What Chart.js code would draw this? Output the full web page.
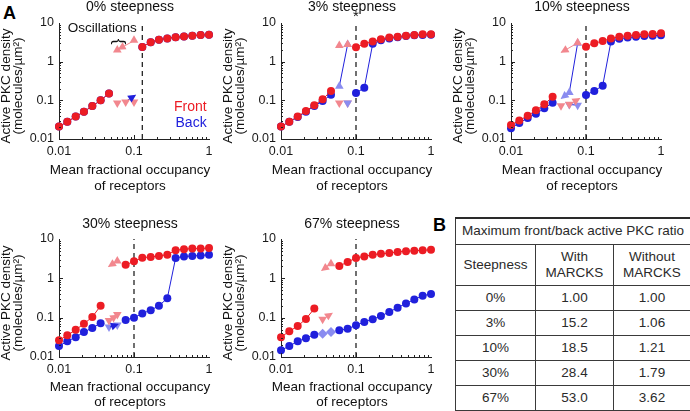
<!DOCTYPE html>
<html>
<head>
<meta charset="utf-8">
<script src="https://cdn.jsdelivr.net/npm/chart.js@4.4.0/dist/chart.umd.min.js"></script>
<style>
  body { margin: 0; width: 690px; height: 411px; position: relative; background: #fff; overflow: hidden;
         font-family: 'Liberation Sans', Arial, sans-serif; }
  canvas { position: absolute; }
  .tag { position: absolute; font-weight: bold; font-size: 18px; line-height: 18px; color: #000; }
  #ratio { position: absolute; left: 455px; top: 217px; width: 235px; border-collapse: collapse; table-layout: fixed;
           font-size: 13.5px; color: #2a2a2a; text-align: center; }
  #ratio td { border: 1px solid #3a3a3a; padding: 0; line-height: 16px; }
  #ratio tr { height: 25px; }
  #ratio tr.h1 { height: 26px; }
  #ratio tr.h2 { height: 41px; }
  #ratio tr.h1 td { border-top: 2px solid #2a2a2a; }
</style>
</head>
<body>
<div class="tag" style="left:3px;top:4px">A</div>
<div class="tag" style="left:433px;top:216px">B</div>
<table id="ratio">
  <colgroup><col style="width:80px"><col style="width:78px"><col style="width:77px"></colgroup>
  <tr class="h1"><td colspan="3">Maximum front/back active PKC ratio</td></tr>
  <tr class="h2"><td>Steepness</td><td>With<br>MARCKS</td><td>Without<br>MARCKS</td></tr>
</table>
<script>
// receptor occupancy grid used by every simulation
const occupancy = [0.01, 0.0129, 0.0167, 0.0215, 0.0278, 0.0359, 0.0464, 0.0599, 0.0774, 0.1,
                   0.129, 0.167, 0.215, 0.278, 0.359, 0.464, 0.599, 0.774, 1];
const steepness = ['0%', '3%', '10%', '30%', '67%'];
const switchOccupancy = [0.129, 0.1, 0.1, 0.1, 0.1];
const xTicks = [0.01, 0.1, 1];
const yTicks = [0.01, 0.1, 1, 10];
const xTitle = ['Mean fractional occupancy', 'of receptors'];
const yTitle = ['Active PKC density', '(molecules/µm²)'];

// stable steady states (null = oscillating)
const front0 = [0.021, 0.028, 0.038, 0.051, 0.071, 0.10, 0.15, null, null, null, 2.4, 3.2, 3.7, 4.0, 4.3, 4.5, 4.7, 4.9, 5.0];
const back0 = [0.021, 0.028, 0.038, 0.051, 0.071, 0.10, 0.15, null, null, null, 2.4, 3.2, 3.7, 4.0, 4.3, 4.5, 4.7, 4.9, 5.0];
const front3 = [0.021, 0.028, 0.038, 0.053, 0.075, 0.106, 0.175, null, null, 2.35, 2.9, 3.3, 3.8, 4.2, 4.4, 4.7, 4.9, 5.1, 5.1];
const back3 = [0.021, 0.028, 0.037, 0.051, 0.071, 0.096, 0.14, null, null, 0.155, 0.21, 2.9, 3.6, 4.0, 4.3, 4.6, 4.8, 4.9, 5.0];
const front10 = [0.023, 0.030, 0.040, 0.055, 0.079, 0.124, null, null, null, 2.44, 3.0, 3.4, 4.0, 4.4, 4.7, 4.9, 5.1, 5.2, 5.4];
const back10 = [0.019, 0.026, 0.035, 0.045, 0.062, 0.087, null, null, null, 0.138, 0.175, 0.24, 3.3, 3.9, 4.2, 4.4, 4.6, 4.7, 4.8];
const front30 = [0.0265, 0.0355, 0.049, 0.070, 0.104, 0.20, null, null, 2.2, 2.7, 3.35, 3.5, 3.7, 4.0, 5.2, 5.5, 5.7, 5.7, 5.9];
const back30 = [0.019, 0.025, 0.032, 0.043, 0.055, 0.072, null, null, 0.087, 0.10, 0.128, 0.155, 0.20, 0.31, 3.3, 3.6, 3.7, 3.8, 4.0];
const front67 = [0.032, 0.045, 0.061, 0.093, 0.17, null, null, 2.06, 2.6, 3.3, 3.6, 4.0, 4.2, 4.4, 4.7, 4.9, 5.0, 5.2, 5.3];
const back67 = [0.0148, 0.019, 0.025, 0.030, 0.037, null, null, 0.048, 0.052, 0.064, 0.078, 0.091, 0.11, 0.14, 0.18, 0.23, 0.29, 0.36, 0.40];

// oscillation maxima / minima as [occupancy, density]
const frontMax0 = [[0.0599, 2.0], [0.1, 3.6]];
const frontMin0 = [[0.0599, 0.085], [0.0774, 0.09], [0.1, 0.09]];
const frontMax3 = [[0.0599, 2.6], [0.0774, 2.8]];
const backMax3 = [[0.0599, 0.23], [0.0774, 2.8]];
const frontMin3 = [[0.0599, 0.085], [0.0774, 0.085]];
const backMin3 = [[0.0774, 0.085]];
const frontMax10 = [[0.0774, 3.1]];
const backMax10 = [[0.0599, 0.16], [0.0774, 3.0]];
const frontMin10 = [[0.0464, 0.072], [0.0599, 0.079]];
const backMin10 = [[0.0599, 0.078], [0.0774, 0.075]];
const frontMax30 = [[0.0599, 2.75]];
const frontMin30 = [[0.0464, 0.085], [0.0599, 0.12]];
const backMin30 = [[0.0464, 0.058], [0.0599, 0.065]];
const frontMax67 = [[0.0464, 2.36]];
const frontMin67 = [[0.0359, 0.091]];
const backBoth67 = [[0.0359, 0.039], [0.0464, 0.043]];

// arrows between oscillation states: [from, to]
const arrowsFront0 = [[[0.095, 3.3], [0.062, 2.1]]];
const arrowsBack0 = [[[0.078, 0.094], [0.104, 0.135]]];
const arrowsFront10 = [[[0.074, 2.9], [0.047, 1.75]], [[0.062, 0.08], [0.082, 0.112]]];
const arrowsBack10 = [[[0.058, 0.155], [0.047, 0.112]]];
const arrowsFront30 = [[[0.057, 2.6], [0.046, 2.0]], [[0.048, 0.088], [0.06, 0.115]]];
const arrowsBack30 = [[[0.048, 0.058], [0.061, 0.068]]];
const arrowsFront67 = [[[0.045, 2.25], [0.035, 1.6]], [[0.037, 0.094], [0.048, 0.13]]];

// table B
const withMarcks = ['1.00', '15.2', '18.5', '28.4', '53.0'];
const withoutMarcks = ['1.00', '1.06', '1.21', '1.79', '3.62'];

const RED = '#ec1c24', BLUE = '#2020dc', PINK = '#f2878e', LIGHTBLUE = '#8a8cf0';
const FONT = "'Liberation Sans', Arial, sans-serif";

Chart.defaults.font.family = FONT;
Chart.defaults.color = '#1a1a1a';

function putText(ctx, text, x, y, size, color, align, rotate) {
    ctx.save();
    ctx.translate(x, y);
    if (rotate) ctx.rotate(rotate);
    ctx.fillStyle = color || '#111';
    ctx.font = size + 'px ' + FONT;
    ctx.textAlign = align || 'center';
    ctx.textBaseline = 'middle';
    ctx.fillText(text, 0, 0);
    ctx.restore();
}

const panelExtras = {
    id: 'panelExtras',
    afterDatasetsDraw(chart) {
        const ctx = chart.ctx;
        chart.data.datasets.forEach((ds, i) => {
            if (!ds.arrow) return;
            const pts = chart.getDatasetMeta(i).data;
            const p = pts[pts.length - 1], q = pts[pts.length - 2];
            const ang = Math.atan2(p.y - q.y, p.x - q.x);
            ctx.save();
            ctx.translate(p.x, p.y);
            ctx.rotate(ang);
            ctx.fillStyle = ds.borderColor;
            ctx.beginPath();
            ctx.moveTo(1, 0);
            ctx.lineTo(-7, -4);
            ctx.lineTo(-7, 4);
            ctx.closePath();
            ctx.fill();
            ctx.restore();
        });
    },
    afterDraw(chart, args, opts) {
        const { ctx, chartArea: a, scales: { x, y } } = chart;
        ctx.save();
        ctx.strokeStyle = '#222';
        ctx.lineWidth = 1;
        ctx.beginPath();
        // inward minor ticks, matlab style
        [0.01, 0.1].forEach(d => {
            for (let m = 1; m < 10; m++) {
                const px = Math.round(x.getPixelForValue(m * d)) + 0.5;
                ctx.moveTo(px, a.bottom);
                ctx.lineTo(px, a.bottom - (m === 1 ? 4 : 2));
            }
        });
        [0.01, 0.1, 1].forEach(d => {
            for (let m = 1; m < 10; m++) {
                const py = Math.round(y.getPixelForValue(m * d)) + 0.5;
                ctx.moveTo(a.left, py);
                ctx.lineTo(a.left + (m === 1 ? 4 : 2), py);
            }
        });
        ctx.stroke();
        ctx.restore();

        // titles, drawn without chart.js squeezing them to the axis length
        const cx = (a.left + a.right) / 2 - 4;
        const cy = (a.top + a.bottom) / 2 + 5;
        putText(ctx, opts.title, cx, a.top + opts.titleDy, 14, '#111');
        putText(ctx, xTitle[0], cx, a.bottom + opts.xTitleDy[0], 13.5, '#111');
        putText(ctx, xTitle[1], cx, a.bottom + opts.xTitleDy[1], 13.5, '#111');
        putText(ctx, yTitle[0], a.left - 53, cy, 13.5, '#111', 'center', -Math.PI / 2);
        putText(ctx, yTitle[1], a.left - 40.5, cy, 13.5, '#111', 'center', -Math.PI / 2);

        (opts.texts || []).forEach(t => {
            putText(ctx, t.text, x.getPixelForValue(t.x), y.getPixelForValue(t.y),
                    t.size || 14, t.color, t.align, t.rotate);
        });
    }
};

const series = (vals, color) => ({
    data: vals.map((v, i) => ({ x: occupancy[i], y: v })),
    borderColor: color, backgroundColor: color, borderWidth: 1,
    pointRadius: 4, pointBorderWidth: 0, spanGaps: false, clip: false
});

const marks = (pts, color, style, lineColor) => ({
    data: pts.map(([x, y]) => ({ x, y })),
    showLine: !!lineColor, borderColor: lineColor || color, borderWidth: 1,
    backgroundColor: color, pointBorderWidth: 0, pointRadius: 5,
    pointStyle: style === 'diamond' ? 'rectRot' : 'triangle',
    rotation: style === 'down' ? 180 : 0, clip: false
});

const arrows = (list, color) => list.map(([from, to]) => ({
    data: [{ x: from[0], y: from[1] }, { x: to[0], y: to[1] }],
    borderColor: color, borderWidth: 1, pointRadius: 0, arrow: true, clip: false
}));

const dashed = s => ({
    data: [{ x: s, y: 0.01 }, { x: s, y: 10 }],
    borderColor: '#111', borderWidth: 1.2, borderDash: [5, 4], pointRadius: 0
});

// each list goes bottom -> top
const panels = [
    {
        sets: [
            ...arrows(arrowsBack0, BLUE), marks(frontMin0, PINK, 'down'), marks(frontMax0, PINK, 'up'),
            ...arrows(arrowsFront0, PINK), series(back0, BLUE), series(front0, RED)
        ],
        texts: [
            { text: 'Oscillations', x: 0.109, y: 7.4, align: 'right', size: 13.5 },
            { text: '{', x: 0.063, y: 3.3, size: 17, rotate: Math.PI / 2 },
            { text: 'Front', x: 0.93, y: 0.067, align: 'right', color: RED, size: 14 },
            { text: 'Back', x: 0.93, y: 0.026, align: 'right', color: BLUE, size: 14 }
        ]
    },
    {
        sets: [
            marks(backMax3, LIGHTBLUE, 'up', BLUE), marks(frontMax3, PINK, 'up'),
            marks(frontMin3, PINK, 'down'), marks(backMin3, LIGHTBLUE, 'down'),
            series(back3, BLUE), series(front3, RED)
        ],
        texts: [{ text: '*', x: 0.1, y: 14.5, size: 15 }]
    },
    {
        sets: [
            marks(backMax10, LIGHTBLUE, 'up', BLUE), ...arrows(arrowsBack10, LIGHTBLUE),
            marks(frontMax10, PINK, 'up'), ...arrows(arrowsFront10, PINK),
            marks(backMin10, LIGHTBLUE, 'down', BLUE), marks(frontMin10, PINK, 'down'),
            series(back10, BLUE), series(front10, RED)
        ],
        texts: []
    },
    {
        sets: [
            marks(backMin30, LIGHTBLUE, 'down'), marks(frontMax30, PINK, 'up'), marks(frontMin30, PINK, 'down'),
            ...arrows(arrowsFront30, PINK), ...arrows(arrowsBack30, BLUE),
            series(back30, BLUE), series(front30, RED)
        ],
        texts: []
    },
    {
        sets: [
            marks(backBoth67, LIGHTBLUE, 'diamond', LIGHTBLUE),
            marks(frontMax67, PINK, 'up'), marks(frontMin67, PINK, 'down'), ...arrows(arrowsFront67, PINK),
            series(back67, BLUE), series(front67, RED)
        ],
        texts: []
    }
];

const boxes = [
    { left: 1, top: 0, height: 193, padTop: 23, titleDy: -15.5, xTitleDy: [31.5, 47.5] },
    { left: 223, top: 0, height: 193, padTop: 23, titleDy: -15.5, xTitleDy: [31.5, 47.5] },
    { left: 453, top: 0, height: 193, padTop: 23, titleDy: -15.5, xTitleDy: [31.5, 47.5] },
    { left: 1, top: 217, height: 194, padTop: 22, titleDy: -14.5, xTitleDy: [30, 45.5] },
    { left: 223, top: 217, height: 194, padTop: 22, titleDy: -14.5, xTitleDy: [30, 45.5] }
];

panels.forEach((p, i) => {
    const box = boxes[i];
    const canvas = document.createElement('canvas');
    canvas.width = 220;
    canvas.height = box.height;
    canvas.style.left = box.left + 'px';
    canvas.style.top = box.top + 'px';
    document.body.appendChild(canvas);

    new Chart(canvas.getContext('2d'), {
        type: 'line',
        // chart.js paints dataset 0 last, so flip the bottom->top list
        data: { datasets: [...p.sets].reverse().concat([dashed(switchOccupancy[i])]) },
        options: {
            responsive: false,
            animation: false,
            layout: { padding: { left: 0, right: 12, top: box.padTop, bottom: 0 } },
            plugins: {
                legend: { display: false },
                tooltip: { enabled: false },
                title: { display: false },
                panelExtras: {
                    title: steepness[i] + ' steepness', titleDy: box.titleDy,
                    xTitleDy: box.xTitleDy, texts: p.texts
                }
            },
            scales: {
                x: {
                    type: 'logarithmic', min: 0.01, max: 1,
                    grid: { display: false, drawTicks: false },
                    border: { display: true, color: '#222', width: 1 },
                    afterBuildTicks: s => { s.ticks = xTicks.map(v => ({ value: v })); },
                    afterFit: s => { s.height = 54; },
                    ticks: { callback: v => String(v), padding: 5, maxRotation: 0, autoSkip: false, font: { size: 12.5 } }
                },
                y: {
                    type: 'logarithmic', min: 0.01, max: 10,
                    grid: { display: false, drawTicks: false },
                    border: { display: true, color: '#222', width: 1 },
                    afterBuildTicks: s => { s.ticks = yTicks.map(v => ({ value: v })); },
                    afterFit: s => { s.width = 58; },
                    ticks: { callback: v => String(v), padding: 5, autoSkip: false, font: { size: 12.5 } }
                }
            }
        },
        plugins: [panelExtras]
    });
});

const table = document.getElementById('ratio');
steepness.forEach((s, i) => {
    const tr = table.insertRow();
    [s, withMarcks[i], withoutMarcks[i]].forEach(t => { tr.insertCell().textContent = t; });
});
</script>
</body>
</html>
